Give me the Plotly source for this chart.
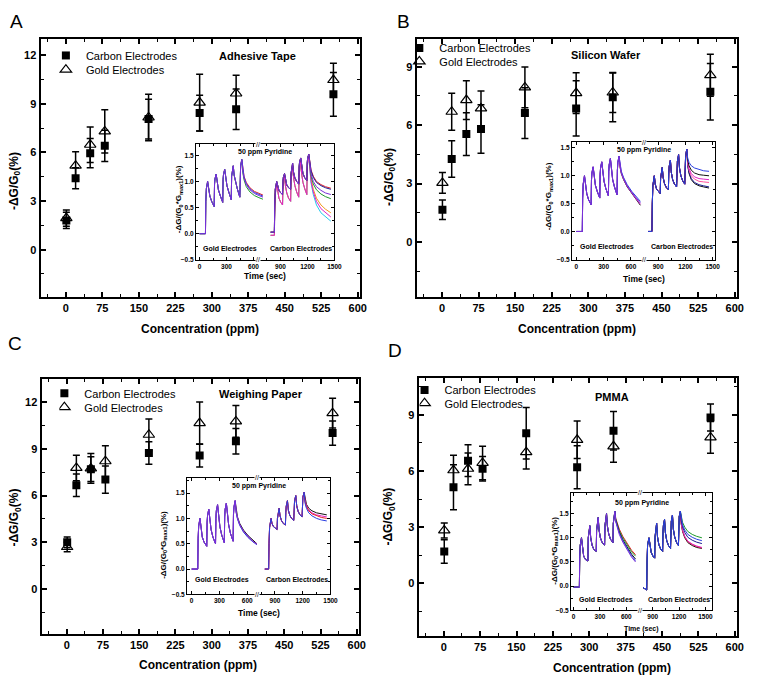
import plotly.graph_objects as go

W, H = 762, 684
FONT = "Liberation Sans, Arial, sans-serif"

# ---------------- main data ----------------
CONC = [1, 20, 50, 80, 170, 275, 350, 550]
X_TICKS = [0, 75, 150, 225, 300, 375, 450, 525, 600]

A_CARBON = [1.8, 4.4, 5.95, 6.4, 8.05, 8.42, 8.66, 9.58]
A_CARBON_ERR = [0.5, 0.65, 0.9, 0.96, 1.23, 1.1, 1.25, 1.35]
A_GOLD = [1.95, 5.18, 6.47, 7.29, 8.15, 9.07, 9.63, 10.46]
A_GOLD_ERR = [0.5, 0.86, 1.1, 1.33, 1.43, 1.75, 1.12, 1.03]

B_CARBON = [1.65, 4.26, 5.54, 5.8, 6.62, 6.86, 7.43, 7.72]
B_CARBON_ERR = [0.5, 0.94, 1.1, 1.25, 1.3, 1.42, 1.25, 1.45]
B_GOLD = [3.03, 6.69, 7.29, 6.86, 7.94, 7.65, 7.68, 8.57]
B_GOLD_ERR = [0.53, 0.95, 1.0, 0.9, 1.05, 1.05, 1.03, 1.08]

C_CARBON = [3.0, 6.67, 7.7, 7.03, 8.74, 8.57, 9.49, 10.02]
C_CARBON_ERR = [0.35, 0.72, 0.8, 0.88, 0.72, 0.73, 0.82, 0.78]
C_GOLD = [2.7, 7.78, 7.75, 8.21, 9.91, 10.66, 10.77, 11.3]
C_GOLD_ERR = [0.3, 0.82, 0.95, 1.0, 1.02, 1.35, 1.02, 0.96]

D_CARBON = [1.69, 5.13, 6.55, 6.12, 8.02, 6.2, 8.15, 8.86]
D_CARBON_ERR = [0.63, 1.2, 0.85, 0.65, 1.38, 1.15, 1.03, 0.72]
D_GOLD = [2.82, 6.04, 6.12, 6.43, 7.01, 7.67, 7.32, 7.8]
D_GOLD_ERR = [0.4, 0.8, 0.85, 0.9, 0.9, 1.0, 0.85, 0.85]

PANEL_TITLES = ["Adhesive Tape", "Silicon Wafer", "Weighing Paper", "PMMA"]
PANEL_LETTERS = ["A", "B", "C", "D"]

# ---------------- inset data (time traces) ----------------
GOLD_T_HEAD = [0, 66, 70, 76, 90, 100, 115, 135, 163, 167, 172, 185, 195, 210, 230, 258,
               262, 267, 280, 290, 305, 325, 353, 357, 362, 375, 385, 400, 420, 448, 452, 457, 470]
GOLD_T_TAIL = [480, 495, 520, 560, 610, 660, 705]
CARB_T_HEAD = [790, 832, 836, 842, 858, 868, 883, 903, 923, 927, 932, 945, 955, 970, 990, 1013,
               1017, 1022, 1035, 1045, 1060, 1080, 1103, 1107, 1112, 1125, 1135, 1150, 1170, 1193, 1197, 1202, 1215]
CARB_T_TAIL = [1225, 1240, 1265, 1300, 1350, 1400, 1460]
TIME_TICKS = [0, 300, 600, 900, 1200, 1500]

# Panel A inset
A_GOLD_HEAD = [0.0, 0.0, 0.62, 0.86, 1.0, 0.85, 0.72, 0.62, 0.52, 0.95, 1.05, 1.14, 0.98, 0.84, 0.73, 0.6,
               1.04, 1.14, 1.23, 1.06, 0.92, 0.8, 0.65, 1.1, 1.2, 1.3, 1.12, 0.98, 0.86, 0.7, 1.18, 1.3, 1.42]
A_GOLD_TAIL_RED = [1.24, 1.1, 0.98, 0.88, 0.81, 0.77, 0.74]
A_GOLD_TAIL_GREEN = [1.18, 1.03, 0.9, 0.8, 0.73, 0.69, 0.66]
A_GOLD_TAIL_BLUE = [1.22, 1.08, 0.96, 0.86, 0.79, 0.75, 0.72]
A_GOLD_TAIL_VIOLET = [1.2, 1.06, 0.94, 0.84, 0.77, 0.73, 0.7]
A_CARB_HEAD_HIGH = [0.03, 0.03, 0.55, 0.85, 1.0, 0.9, 0.83, 0.78, 0.75, 1.0, 1.08, 1.15, 1.02, 0.93, 0.88, 0.85,
                    1.15, 1.25, 1.35, 1.18, 1.07, 1.0, 0.95, 1.28, 1.37, 1.45, 1.27, 1.15, 1.07, 1.02, 1.35, 1.45, 1.52]
A_CARB_HEAD_LOW = [-0.03, -0.03, 0.4, 0.75, 0.95, 0.8, 0.68, 0.6, 0.55, 0.85, 0.98, 1.12, 0.92, 0.78, 0.68, 0.62,
                   1.0, 1.15, 1.3, 1.08, 0.92, 0.8, 0.7, 1.1, 1.25, 1.4, 1.15, 0.98, 0.86, 0.75, 1.2, 1.35, 1.48]
A_CARB_TAIL_CYAN = [1.2, 0.97, 0.75, 0.55, 0.4, 0.32, 0.24]
A_CARB_TAIL_MAGENTA = [1.22, 1.0, 0.8, 0.62, 0.48, 0.4, 0.32]
A_CARB_TAIL_ORANGE = [1.25, 1.05, 0.85, 0.68, 0.55, 0.47, 0.4]
A_CARB_TAIL_GREEN = [1.28, 1.1, 0.95, 0.84, 0.76, 0.71, 0.67]
A_CARB_TAIL_RED = [1.35, 1.22, 1.1, 1.0, 0.94, 0.9, 0.87]
A_CARB_TAIL_VIOLET = [1.3, 1.15, 1.0, 0.9, 0.83, 0.78, 0.75]
A_CARB_TAIL_NAVY = [1.33, 1.2, 1.08, 0.98, 0.92, 0.88, 0.85]

# Panel B inset
B_GOLD_HEAD = [0.0, 0.0, 0.6, 0.85, 1.0, 0.83, 0.68, 0.57, 0.48, 0.92, 1.05, 1.16, 0.98, 0.83, 0.72, 0.6,
               1.02, 1.14, 1.25, 1.05, 0.9, 0.77, 0.64, 1.08, 1.2, 1.31, 1.1, 0.93, 0.8, 0.66, 1.1, 1.24, 1.35]
B_GOLD_TAIL_BLACK = [1.16, 1.04, 0.93, 0.8, 0.68, 0.57, 0.47]
B_GOLD_TAIL_MAGENTA = [1.17, 1.05, 0.94, 0.81, 0.69, 0.58, 0.49]
B_GOLD_TAIL_VIOLET = [1.18, 1.06, 0.95, 0.82, 0.7, 0.6, 0.51]
B_GOLD_TAIL_BLUE = [1.2, 1.08, 0.97, 0.84, 0.72, 0.62, 0.54]
B_CARB_HEAD = [0.0, 0.0, 0.5, 0.82, 1.0, 0.85, 0.76, 0.71, 0.68, 0.95, 1.05, 1.15, 0.97, 0.86, 0.79, 0.75,
               1.05, 1.17, 1.28, 1.06, 0.93, 0.85, 0.8, 1.12, 1.26, 1.38, 1.14, 1.0, 0.91, 0.85, 1.2, 1.35, 1.48]
B_CARB_TAIL_BLACK2 = [1.18, 1.04, 0.93, 0.86, 0.82, 0.8, 0.78]
B_CARB_TAIL_NAVY = [1.2, 1.06, 0.95, 0.88, 0.84, 0.82, 0.8]
B_CARB_TAIL_PINK = [1.22, 1.1, 1.0, 0.94, 0.9, 0.89, 0.88]
B_CARB_TAIL_MAGENTA = [1.25, 1.13, 1.04, 0.98, 0.95, 0.94, 0.93]
B_CARB_TAIL_BLACK = [1.28, 1.18, 1.1, 1.05, 1.02, 1.01, 1.0]
B_CARB_TAIL_BLUE = [1.32, 1.24, 1.18, 1.14, 1.11, 1.09, 1.08]

# Panel C inset
C_GOLD_HEAD = [0.0, 0.0, 0.6, 0.85, 1.0, 0.8, 0.63, 0.53, 0.45, 0.92, 1.06, 1.18, 0.96, 0.78, 0.63, 0.5,
               1.0, 1.15, 1.27, 1.03, 0.84, 0.67, 0.52, 1.03, 1.18, 1.3, 1.06, 0.87, 0.7, 0.55, 1.08, 1.22, 1.35]
C_GOLD_TAIL_BLACK = [1.16, 1.03, 0.9, 0.77, 0.66, 0.57, 0.5]
C_GOLD_TAIL_PINK = [1.13, 1.0, 0.87, 0.74, 0.63, 0.55, 0.49]
C_GOLD_TAIL_BLUE = [1.12, 0.99, 0.86, 0.73, 0.62, 0.54, 0.48]
C_GOLD_TAIL_VIOLET = [1.14, 1.01, 0.88, 0.75, 0.64, 0.55, 0.49]
C_CARB_HEAD = [0.0, 0.0, 0.5, 0.82, 1.0, 0.9, 0.84, 0.8, 0.78, 1.0, 1.1, 1.2, 1.05, 0.96, 0.9, 0.87,
               1.12, 1.24, 1.35, 1.16, 1.06, 1.0, 0.96, 1.22, 1.35, 1.45, 1.25, 1.14, 1.07, 1.03, 1.3, 1.42, 1.52]
C_CARB_TAIL_BLACK = [1.38, 1.28, 1.2, 1.15, 1.11, 1.09, 1.07]
C_CARB_TAIL_MAGENTA = [1.35, 1.25, 1.17, 1.11, 1.07, 1.05, 1.03]
C_CARB_TAIL_RED = [1.33, 1.23, 1.15, 1.09, 1.05, 1.02, 1.0]
C_CARB_TAIL_BLUE = [1.3, 1.2, 1.11, 1.05, 1.0, 0.97, 0.95]

# Panel D inset
D_GOLD_HEAD = [-0.02, -0.02, 0.6, 0.85, 1.0, 0.78, 0.62, 0.55, 0.52, 1.0, 1.12, 1.25, 1.0, 0.85, 0.76, 0.72,
               1.15, 1.28, 1.42, 1.16, 1.0, 0.9, 0.85, 1.25, 1.38, 1.5, 1.24, 1.08, 0.97, 0.9, 1.3, 1.42, 1.55]
D_GOLD_TAIL_RED = [1.4, 1.3, 1.18, 1.03, 0.87, 0.74, 0.65]
D_GOLD_TAIL_GREEN = [1.38, 1.28, 1.15, 1.0, 0.84, 0.71, 0.62]
D_GOLD_TAIL_BLACK = [1.36, 1.25, 1.12, 0.96, 0.8, 0.66, 0.56]
D_GOLD_TAIL_BLUE = [1.35, 1.23, 1.1, 0.94, 0.78, 0.63, 0.53]
D_GOLD_TAIL_VIOLET = [1.33, 1.21, 1.07, 0.91, 0.75, 0.6, 0.5]
D_CARB_HEAD = [-0.03, -0.08, 0.5, 0.85, 1.0, 0.82, 0.7, 0.62, 0.58, 1.02, 1.15, 1.3, 1.02, 0.86, 0.77, 0.72,
               1.1, 1.25, 1.38, 1.1, 0.94, 0.84, 0.78, 1.2, 1.34, 1.47, 1.18, 1.02, 0.91, 0.84, 1.3, 1.44, 1.55]
D_CARB_TAIL_BLACK = [1.28, 1.13, 1.0, 0.9, 0.84, 0.8, 0.78]
D_CARB_TAIL_RED = [1.29, 1.15, 1.02, 0.92, 0.86, 0.82, 0.79]
D_CARB_TAIL_MAGENTA = [1.3, 1.16, 1.03, 0.93, 0.87, 0.83, 0.8]
D_CARB_TAIL_GREEN = [1.42, 1.32, 1.22, 1.13, 1.07, 1.03, 1.0]
D_CARB_TAIL_VIOLET = [1.35, 1.23, 1.11, 1.01, 0.95, 0.91, 0.88]
D_CARB_TAIL_BLUE = [1.38, 1.27, 1.16, 1.07, 1.01, 0.97, 0.94]

COL = dict(red="#e41e26", green="#1f9a2b", blue="#2a3fe0", violet="#7a2fd8", cyan="#25c8ec",
           magenta="#e023c8", orange="#f39a1e", navy="#1b1b8f", black="#111111", pink="#ff4f9c")

# ---------------- layout geometry (pixels) ----------------
MAIN_BOX = [(41, 364, 39, 298), (421, 745, 39, 298), (42, 363, 381, 637), (423, 745, 380, 639)]
MAIN_YRANGE = [(-2.9, 13.0), (-2.82, 10.44), (-2.9, 13.47), (-2.84, 10.96)]
MAIN_YTICKS = [[0, 3, 6, 9, 12], [0, 3, 6, 9], [0, 3, 6, 9, 12], [0, 3, 6, 9]]
INSET_BOX = [(198, 338, 145, 261), (578, 723, 143, 261), (189, 334, 480, 597), (577, 720, 495, 613)]
INSET_XRANGE = [(-40, 1500), (-48, 1530), (-50, 1500), (-30, 1580)]
INSET_YRANGE = [(-0.5, 1.71), (-0.51, 1.6), (-0.5, 1.8), (-0.5, 1.93)]
INSET_BREAK = [650, 750, 710, 758]
INSET_TOPTEXT_Y = [0.93, 0.935, 0.93, 0.915]
INSET_ELEC_Y = [0.1, 0.116, 0.13, 0.096]
INSET_TIME_Y = [277, 280, 616, 632]
INSET_TIME_SIZE = [8.5, 8.5, 8.5, 7]
INSET_YTITLE = [(181, 200), (555, 197), (165, 547), (560, 553)]

def px(x):
    return x / W

def py(y):
    return 1 - y / H

fig = go.Figure()

main_sets = [
    (A_CARBON, A_CARBON_ERR, A_GOLD, A_GOLD_ERR),
    (B_CARBON, B_CARBON_ERR, B_GOLD, B_GOLD_ERR),
    (C_CARBON, C_CARBON_ERR, C_GOLD, C_GOLD_ERR),
    (D_CARBON, D_CARBON_ERR, D_GOLD, D_GOLD_ERR),
]

inset_sets = [
    ([(COL["red"], A_GOLD_HEAD, A_GOLD_TAIL_RED), (COL["green"], A_GOLD_HEAD, A_GOLD_TAIL_GREEN),
      (COL["blue"], A_GOLD_HEAD, A_GOLD_TAIL_BLUE), (COL["violet"], A_GOLD_HEAD, A_GOLD_TAIL_VIOLET)],
     [(COL["cyan"], A_CARB_HEAD_LOW, A_CARB_TAIL_CYAN), (COL["orange"], A_CARB_HEAD_LOW, A_CARB_TAIL_ORANGE),
      (COL["magenta"], A_CARB_HEAD_LOW, A_CARB_TAIL_MAGENTA), (COL["green"], A_CARB_HEAD_HIGH, A_CARB_TAIL_GREEN),
      (COL["red"], A_CARB_HEAD_HIGH, A_CARB_TAIL_RED), (COL["navy"], A_CARB_HEAD_HIGH, A_CARB_TAIL_NAVY),
      (COL["violet"], A_CARB_HEAD_HIGH, A_CARB_TAIL_VIOLET)]),
    ([(COL["black"], B_GOLD_HEAD, B_GOLD_TAIL_BLACK), (COL["magenta"], B_GOLD_HEAD, B_GOLD_TAIL_MAGENTA),
      (COL["blue"], B_GOLD_HEAD, B_GOLD_TAIL_BLUE), (COL["violet"], B_GOLD_HEAD, B_GOLD_TAIL_VIOLET)],
     [(COL["black"], B_CARB_HEAD, B_CARB_TAIL_BLACK2), (COL["navy"], B_CARB_HEAD, B_CARB_TAIL_NAVY),
      (COL["pink"], B_CARB_HEAD, B_CARB_TAIL_PINK), (COL["magenta"], B_CARB_HEAD, B_CARB_TAIL_MAGENTA),
      (COL["black"], B_CARB_HEAD, B_CARB_TAIL_BLACK), (COL["blue"], B_CARB_HEAD, B_CARB_TAIL_BLUE)]),
    ([(COL["black"], C_GOLD_HEAD, C_GOLD_TAIL_BLACK), (COL["pink"], C_GOLD_HEAD, C_GOLD_TAIL_PINK),
      (COL["blue"], C_GOLD_HEAD, C_GOLD_TAIL_BLUE), (COL["violet"], C_GOLD_HEAD, C_GOLD_TAIL_VIOLET)],
     [(COL["black"], C_CARB_HEAD, C_CARB_TAIL_BLACK), (COL["magenta"], C_CARB_HEAD, C_CARB_TAIL_MAGENTA),
      (COL["red"], C_CARB_HEAD, C_CARB_TAIL_RED), (COL["blue"], C_CARB_HEAD, C_CARB_TAIL_BLUE)]),
    ([(COL["red"], D_GOLD_HEAD, D_GOLD_TAIL_RED), (COL["green"], D_GOLD_HEAD, D_GOLD_TAIL_GREEN),
      (COL["black"], D_GOLD_HEAD, D_GOLD_TAIL_BLACK), (COL["blue"], D_GOLD_HEAD, D_GOLD_TAIL_BLUE),
      (COL["violet"], D_GOLD_HEAD, D_GOLD_TAIL_VIOLET)],
     [(COL["black"], D_CARB_HEAD, D_CARB_TAIL_BLACK), (COL["red"], D_CARB_HEAD, D_CARB_TAIL_RED),
      (COL["magenta"], D_CARB_HEAD, D_CARB_TAIL_MAGENTA), (COL["green"], D_CARB_HEAD, D_CARB_TAIL_GREEN),
      (COL["navy"], D_CARB_HEAD, D_CARB_TAIL_VIOLET), (COL["blue"], D_CARB_HEAD, D_CARB_TAIL_BLUE)]),
]

# legend: symbol centre x, carbon row y, gold row y (px), text indentation
LEG_POS = [(66.5, 55.7, 70.0), (423.7, 48.3, 61.7), (68.0, 395.0, 409.0), (432.0, 391.7, 405.0)]
LEG_INDENT = [-12, -12, -15, -15]
TITLE_POS = [(260.7, 56.7), (612.7, 55.0), (263.3, 395.7), (618.3, 398.3)]
LETTER_POS = [(17, 22), (408, 22), (15, 345), (399, 352)]
XTITLE_POS = [(202, 330), (583, 330), (200, 668), (618, 671)]
YTITLE_POS = [(15, 182), (394, 178), (15, 520), (393, 519)]

layout = dict(
    width=W, height=H, margin=dict(l=0, r=0, t=0, b=0),
    paper_bgcolor="white", plot_bgcolor="rgba(0,0,0,0)",
    font=dict(family=FONT, color="black"),
    showlegend=True,
)
annotations = []

def ann(x, y, text, size, **kw):
    d = dict(x=x, y=y, xref="paper", yref="paper", text=text, showarrow=False,
             xanchor="center", yanchor="middle", font=dict(size=size, family=FONT, color="black"))
    d.update(kw)
    annotations.append(d)

def axis_style(**kw):
    d = dict(showline=True, linecolor="black", mirror="allticks", ticks="inside",
             tickcolor="black", showgrid=False, zeroline=False, fixedrange=True)
    d.update(kw)
    return d

for i in range(4):
    xa = "x" if i == 0 else f"x{i + 1}"
    ya = "y" if i == 0 else f"y{i + 1}"
    l, r, t, b = MAIN_BOX[i]
    layout["xaxis" if i == 0 else f"xaxis{i + 1}"] = axis_style(
        domain=[px(l), px(r)], range=[-52, 605], anchor=ya, tickvals=X_TICKS,
        linewidth=2, ticklen=5, tickwidth=1.5,
        minor=dict(ticks="inside", dtick=37.5, tick0=0, ticklen=3, tickwidth=1.2, tickcolor="black"),
        tickfont=dict(size=11, weight="bold", family=FONT))
    layout["yaxis" if i == 0 else f"yaxis{i + 1}"] = axis_style(
        domain=[py(b), py(t)], range=list(MAIN_YRANGE[i]), anchor=xa, tickvals=MAIN_YTICKS[i],
        linewidth=2, ticklen=5, tickwidth=1.5,
        minor=dict(ticks="inside", dtick=1.5, tick0=0, ticklen=3, tickwidth=1.2, tickcolor="black"),
        tickfont=dict(size=11, weight="bold", family=FONT))

    carb, carb_err, gold, gold_err = main_sets[i]
    leg_c = "legend" if i == 0 else f"legend{2 * i + 1}"
    leg_g = f"legend{2 * i + 2}"
    fig.add_trace(go.Scatter(
        x=CONC, y=carb, mode="markers", name="Carbon Electrodes", xaxis=xa, yaxis=ya, legend=leg_c,
        marker=dict(symbol="square", size=8, color="black", line=dict(width=0)),
        error_y=dict(type="data", array=carb_err, color="black", thickness=1.5, width=3.5)))
    fig.add_trace(go.Scatter(
        x=CONC, y=gold, mode="markers", name="Gold Electrodes", xaxis=xa, yaxis=ya, legend=leg_g,
        marker=dict(symbol="triangle-up-open", size=10, color="black", line=dict(width=1.2)),
        error_y=dict(type="data", array=gold_err, color="black", thickness=1.5, width=3.5)))

    sx, cy, gy = LEG_POS[i]
    for name, yy in ((leg_c, cy), (leg_g, gy)):
        layout[name] = dict(x=px(sx - 8), y=py(yy), xanchor="left", yanchor="middle",
                            bgcolor="rgba(0,0,0,0)", borderwidth=0, itemwidth=30, indentation=LEG_INDENT[i],
                            font=dict(size=11, family=FONT, color="black"), tracegroupgap=0)

    tx, ty = TITLE_POS[i]
    ann(px(tx), py(ty), f"<b>{PANEL_TITLES[i]}</b>", 11)
    lx, ly = LETTER_POS[i]
    ann(px(lx), py(ly), PANEL_LETTERS[i], 19)
    xx, xy = XTITLE_POS[i]
    ann(px(xx), py(xy), "<b>Concentration (ppm)</b>", 12)
    yx, yy2 = YTITLE_POS[i]
    ann(px(yx), py(yy2), "<b>-ΔG/G<sub>0</sub>(%)</b>", 12, textangle=-90)

    # ---------- inset ----------
    k = i + 5
    ixa, iya = f"x{k}", f"y{k}"
    il, ir, it, ib = INSET_BOX[i]
    layout[f"xaxis{k}"] = axis_style(
        domain=[px(il), px(ir)], range=list(INSET_XRANGE[i]), anchor=iya, tickvals=TIME_TICKS,
        linewidth=1, ticklen=3, tickwidth=1,
        minor=dict(ticks="inside", dtick=150, tick0=0, ticklen=2, tickwidth=1, tickcolor="black"),
        tickfont=dict(size=6.5, weight="bold", family=FONT))
    layout[f"yaxis{k}"] = axis_style(
        domain=[py(ib), py(it)], range=list(INSET_YRANGE[i]), anchor=ixa, dtick=0.5, tick0=0,
        tickformat=".1f", linewidth=1, ticklen=3, tickwidth=1,
        minor=dict(ticks="inside", dtick=0.25, tick0=0, ticklen=2, tickwidth=1, tickcolor="black"),
        tickfont=dict(size=6.5, weight="bold", family=FONT))
    gold_lines, carb_lines = inset_sets[i]
    for color, head, tail in gold_lines:
        fig.add_trace(go.Scatter(x=GOLD_T_HEAD + GOLD_T_TAIL, y=head + tail, mode="lines",
                                 line=dict(color=color, width=1), xaxis=ixa, yaxis=iya,
                                 showlegend=False, hoverinfo="skip"))
    for color, head, tail in carb_lines:
        fig.add_trace(go.Scatter(x=CARB_T_HEAD + CARB_T_TAIL, y=head + tail, mode="lines",
                                 line=dict(color=color, width=1), xaxis=ixa, yaxis=iya,
                                 showlegend=False, hoverinfo="skip"))
    for yb in (0, 1):
        ann(INSET_BREAK[i], yb, "//", 7, xref=ixa, yref=f"{iya} domain", bgcolor="white", borderpad=0)
    ann(0.5, INSET_TOPTEXT_Y[i], "<b>50 ppm Pyridine</b>", 7, xref=f"{ixa} domain", yref=f"{iya} domain")
    ann(0.04, INSET_ELEC_Y[i], "<b>Gold Electrodes</b>", 7, xref=f"{ixa} domain", yref=f"{iya} domain",
        xanchor="left")
    ann(0.995, INSET_ELEC_Y[i], "<b>Carbon Electrodes</b>", 7, xref=f"{ixa} domain", yref=f"{iya} domain",
        xanchor="right")
    ann(px((il + ir) / 2), py(INSET_TIME_Y[i]), "<b>Time (sec)</b>", INSET_TIME_SIZE[i])
    yx2, yy3 = INSET_YTITLE[i]
    ann(px(yx2), py(yy3), "<b>-ΔG/(G<sub>0</sub>*G<sub>max1</sub>)(%)</b>", 8, textangle=-90)

layout["annotations"] = annotations
fig.update_layout(**layout)
fig.write_html("out.html", config={"displayModeBar": False},
               post_script="document.body.style.margin='0px';document.body.style.padding='0px';")
